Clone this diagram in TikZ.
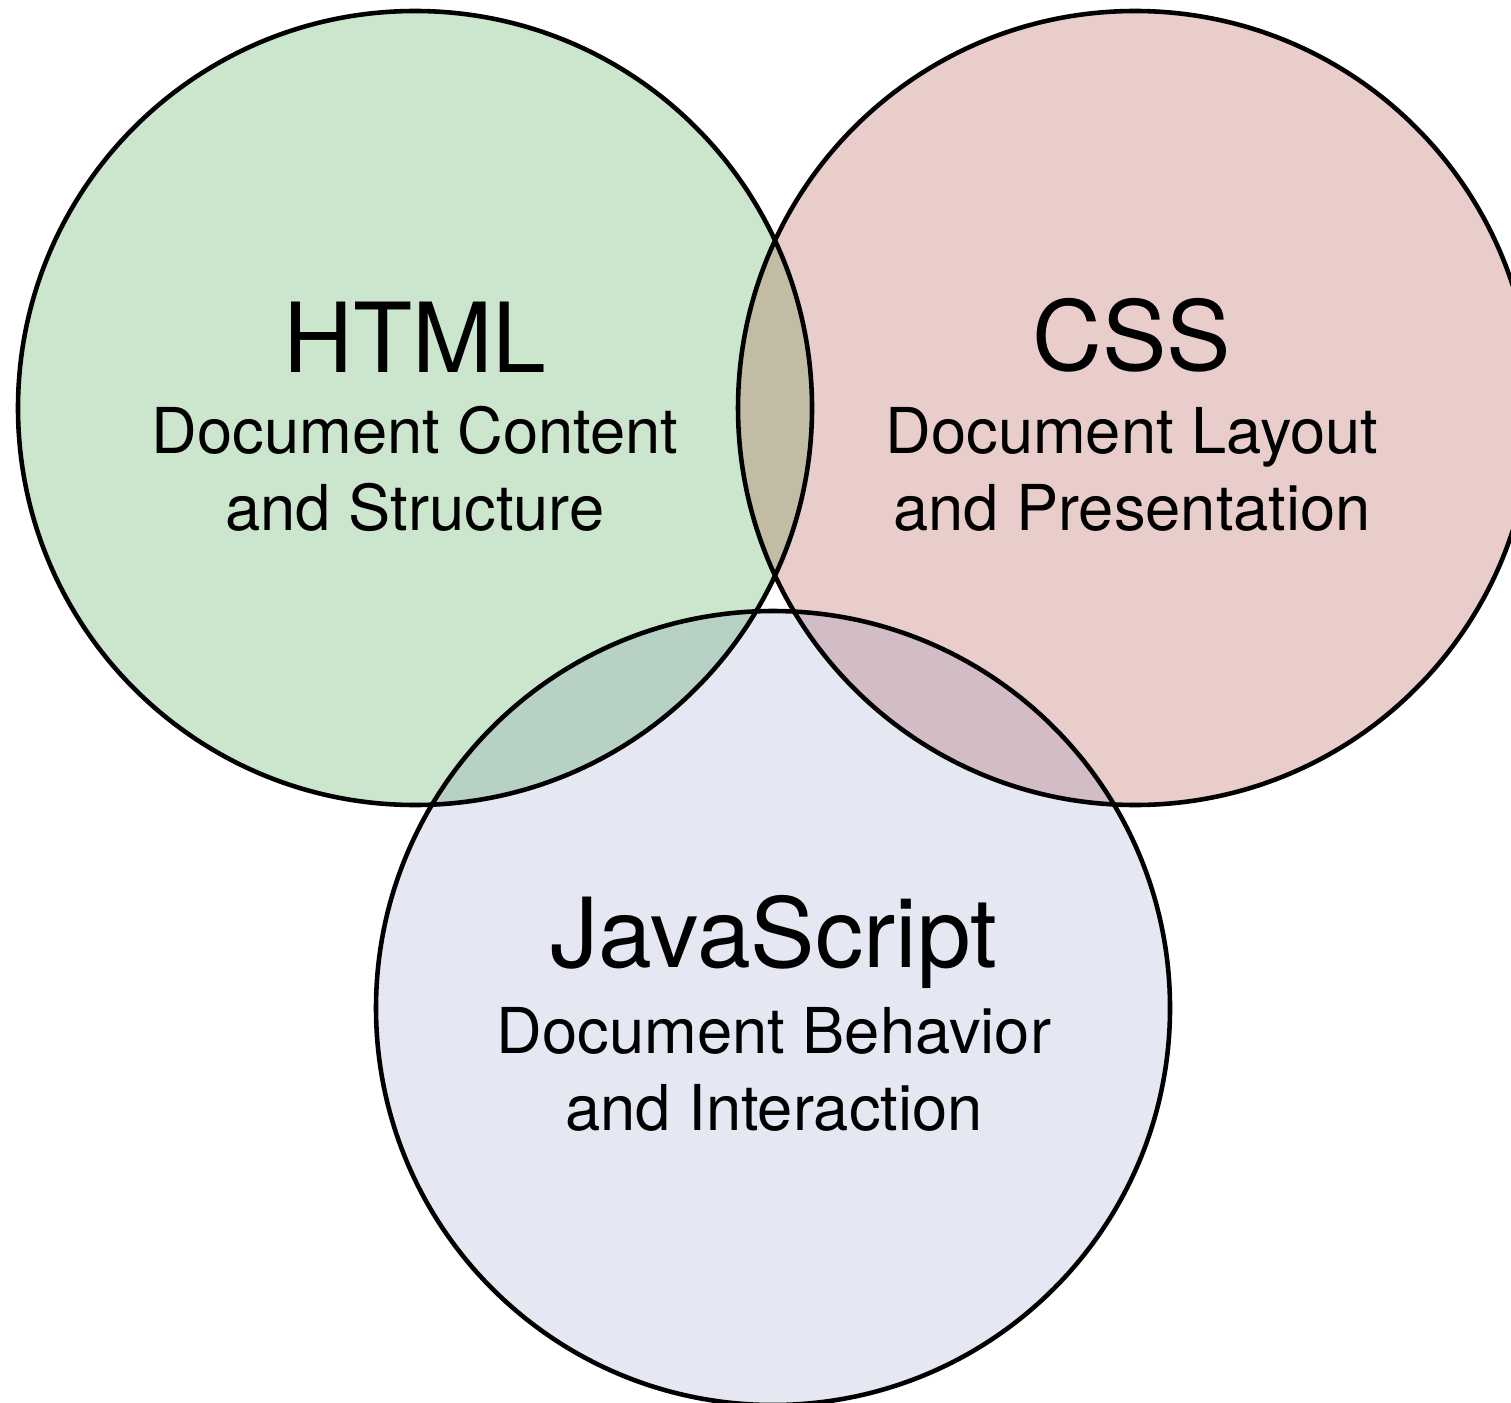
\documentclass[tikz,border=0pt]{standalone}
\usepackage{fontspec}
\setmainfont{TeX Gyre Heros}

\definecolor{htmlfill}{HTML}{CBE6CC}
\definecolor{cssfill}{HTML}{E8CDCA}
\definecolor{jsfill}{HTML}{E5E7F2}
\definecolor{htmlcss}{HTML}{C1BCA3}
\definecolor{htmljs}{HTML}{B7D1C4}
\definecolor{cssjs}{HTML}{D2BCC6}

\tikzset{
    langtitle/.style={font=\fontsize{27.5}{33}\selectfont, anchor=base},
    langsub/.style={font=\fontsize{18}{21.9}\selectfont, align=center, anchor=base}
}

\begin{document}
\begin{tikzpicture}[line width=1.3pt, line cap=round, line join=round]
    \useasboundingbox (0,0) rectangle (15.11,14.02);
    \def\rad{3.97}

    \coordinate (html) at (4.15,9.94);
    \coordinate (css) at (11.35,9.94);
    \coordinate (js) at (7.73,3.94);

    % circles
    \fill[htmlfill] (html) circle (\rad);
    \fill[cssfill] (css) circle (\rad);
    \fill[jsfill] (js) circle (\rad);

    % overlaps
    \begin{scope}
        \clip (html) circle (\rad);
        \fill[htmlcss] (css) circle (\rad);
        \fill[htmljs] (js) circle (\rad);
    \end{scope}
    \begin{scope}
        \clip (css) circle (\rad);
        \fill[cssjs] (js) circle (\rad);
    \end{scope}

    \draw (html) circle (\rad);
    \draw (css) circle (\rad);
    \draw (js) circle (\rad);

    % labels (base of a two-line node is its last line)
    \node[langtitle] (htmltitle) at (4.15,10.30) {HTML};
    \node[langsub] (htmlsub) at (4.15,8.72) {Document Content\\and Structure};

    \node[langtitle] (csstitle) at (11.32,10.32) {CSS};
    \node[langsub] (csssub) at (11.32,8.72) {Document Layout\\and Presentation};

    \node[langtitle] (jstitle) at (7.74,4.35) {JavaScript};
    \node[langsub] (jssub) at (7.74,2.72) {Document Behavior\\and Interaction};
\end{tikzpicture}
\end{document}
